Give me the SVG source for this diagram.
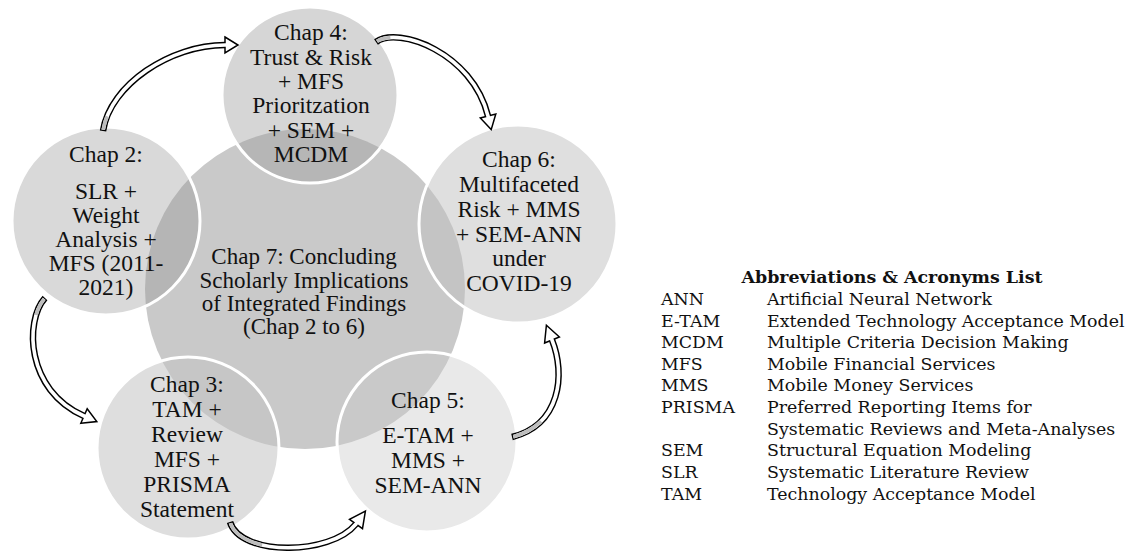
<svg xmlns="http://www.w3.org/2000/svg" width="1132" height="551" viewBox="0 0 1132 551">
<style>
.ct{font-family:"Liberation Serif","Times New Roman",serif;font-size:23.5px;fill:#111;text-anchor:middle}
.c7{font-size:23px}
.ring{stroke:#fff;stroke-width:3}
.bo{fill:none;stroke:#000;stroke-width:6.5;stroke-linecap:butt}
.bi{fill:none;stroke:#fff;stroke-width:3.6;stroke-linecap:butt;stroke-dasharray:0 1.3 2000}
.bg{fill:none;stroke:#bdbdbd;stroke-width:3.6;stroke-linecap:butt}
.ah{fill:#fff;stroke:#000;stroke-width:1.5;stroke-linejoin:miter}
.lg{font-family:"DejaVu Serif",serif;font-size:17.4px;fill:#111}
.lt{font-family:"DejaVu Serif",serif;font-size:17.4px;font-weight:bold;fill:#111;text-anchor:middle}
</style>
<rect width="1132" height="551" fill="#fff"/>
<g id="chap7">
<circle cx="305" cy="289" r="160" fill="#c9c9c9"/>
<text class="ct c7"><tspan x="304" y="264">Chap 7: Concluding</tspan><tspan x="304" y="288">Scholarly Implications</tspan><tspan x="304" y="311">of Integrated Findings</tspan><tspan x="304" y="334">(Chap 2 to 6)</tspan></text>
</g>
<g id="chap4">
<circle class="ring" cx="310" cy="95" r="88" fill="#9a9a9a" fill-opacity="0.407"/>
<text class="ct"><tspan x="311" y="40">Chap 4:</tspan><tspan x="311" y="64.5">Trust &amp; Risk</tspan><tspan x="311" y="89">+ MFS</tspan><tspan x="311" y="113">Prioritzation</tspan><tspan x="311" y="138">+ SEM +</tspan><tspan x="311" y="162">MCDM</tspan></text>
</g>
<g id="chap2">
<circle class="ring" cx="106" cy="221" r="94" fill="#8d8d8d" fill-opacity="0.333"/>
<text class="ct"><tspan x="106" y="162">Chap 2:</tspan><tspan x="106" y="199">SLR +</tspan><tspan x="106" y="223">Weight</tspan><tspan x="106" y="247">Analysis +</tspan><tspan x="106" y="271">MFS (2011-</tspan><tspan x="106" y="295">2021)</tspan></text>
</g>
<g id="chap6">
<circle class="ring" cx="518" cy="224" r="99" fill="#bfbfbf" fill-opacity="0.5"/>
<text class="ct"><tspan x="519" y="167">Chap 6:</tspan><tspan x="519" y="192">Multifaceted</tspan><tspan x="519" y="217">Risk + MMS</tspan><tspan x="519" y="242">+ SEM-ANN</tspan><tspan x="519" y="266">under</tspan><tspan x="519" y="291">COVID-19</tspan></text>
</g>
<g id="chap3">
<circle class="ring" cx="188" cy="448" r="91" fill="#c4c4c4" fill-opacity="0.556"/>
<text class="ct"><tspan x="187" y="392">Chap 3:</tspan><tspan x="187" y="417">TAM +</tspan><tspan x="187" y="442">Review</tspan><tspan x="187" y="467">MFS +</tspan><tspan x="187" y="492">PRISMA</tspan><tspan x="187" y="517">Statement</tspan></text>
</g>
<g id="chap5">
<circle class="ring" cx="427" cy="442" r="90" fill="#c9c9c9" fill-opacity="0.407"/>
<text class="ct"><tspan x="428" y="408">Chap 5:</tspan><tspan x="428" y="443">E-TAM +</tspan><tspan x="428" y="468">MMS +</tspan><tspan x="428" y="493">SEM-ANN</tspan></text>
</g>
<g id="connectors">
<path class="bo" d="M103 131 C110 85 170 45 225 45"/>
<polygon class="ah" points="225,37 238,45 225,53"/>
<path class="bi" d="M103 131 C110 85 170 45 225 45 L227.5 45"/>
<path class="bg" d="M103 131 C110 85 170 45 225 45" stroke-dasharray="0 1.3 14 2000"/>
<path class="bo" d="M376 42 C398 26 472 52 488 116"/>
<polygon class="ah" points="495.8,114 491.2,129.6 480.3,117.9"/>
<path class="bi" d="M376 42 C398 26 472 52 488 116 L488.6 118.4"/>
<path class="bg" d="M376 42 C398 26 472 52 488 116" stroke-dasharray="0 1.3 14 2000"/>
<path class="bo" d="M512 437 C560 425 566 375 552 340"/>
<polygon class="ah" points="559.4,337 546.4,325.2 544.6,343"/>
<path class="bi" d="M512 437 C560 425 566 375 552 340 L551.1 337.7"/>
<path class="bg" d="M512 437 C560 425 566 375 552 340" stroke-dasharray="0 1.3 32 2000"/>
<path class="bo" d="M230 522 C240 556 330 556 356 524"/>
<polygon class="ah" points="362.5,528.7 365.4,511.2 349.5,519.3"/>
<path class="bi" d="M230 522 C240 556 330 556 356 524 L357.5 522"/>
<path class="bg" d="M230 522 C240 556 330 556 356 524" stroke-dasharray="0 1.3 40 2000"/>
<path class="bo" d="M45 298 C25 320 25 390 84 416"/>
<polygon class="ah" points="80.8,423.3 96.8,421.6 87.2,408.7"/>
<path class="bi" d="M45 298 C25 320 25 390 84 416 L86.2 417"/>
<path class="bg" d="M45 298 C25 320 25 390 84 416" stroke-dasharray="0 1.3 18 2000"/>
</g>
<g id="legend">
<text class="lt" x="892" y="283">Abbreviations &amp; Acronyms List</text>
<text class="lg" x="661" y="305">ANN</text><text class="lg" x="767" y="305">Artificial Neural Network</text>
<text class="lg" x="661" y="327">E-TAM</text><text class="lg" x="767" y="327">Extended Technology Acceptance Model</text>
<text class="lg" x="661" y="348">MCDM</text><text class="lg" x="767" y="348">Multiple Criteria Decision Making</text>
<text class="lg" x="661" y="370">MFS</text><text class="lg" x="767" y="370">Mobile Financial Services</text>
<text class="lg" x="661" y="391">MMS</text><text class="lg" x="767" y="391">Mobile Money Services</text>
<text class="lg" x="661" y="413">PRISMA</text><text class="lg" x="767" y="413">Preferred Reporting Items for</text>
<text class="lg" x="767" y="435">Systematic Reviews and Meta-Analyses</text>
<text class="lg" x="661" y="456">SEM</text><text class="lg" x="767" y="456">Structural Equation Modeling</text>
<text class="lg" x="661" y="478">SLR</text><text class="lg" x="767" y="478">Systematic Literature Review</text>
<text class="lg" x="661" y="500">TAM</text><text class="lg" x="767" y="500">Technology Acceptance Model</text>
</g>
</svg>
